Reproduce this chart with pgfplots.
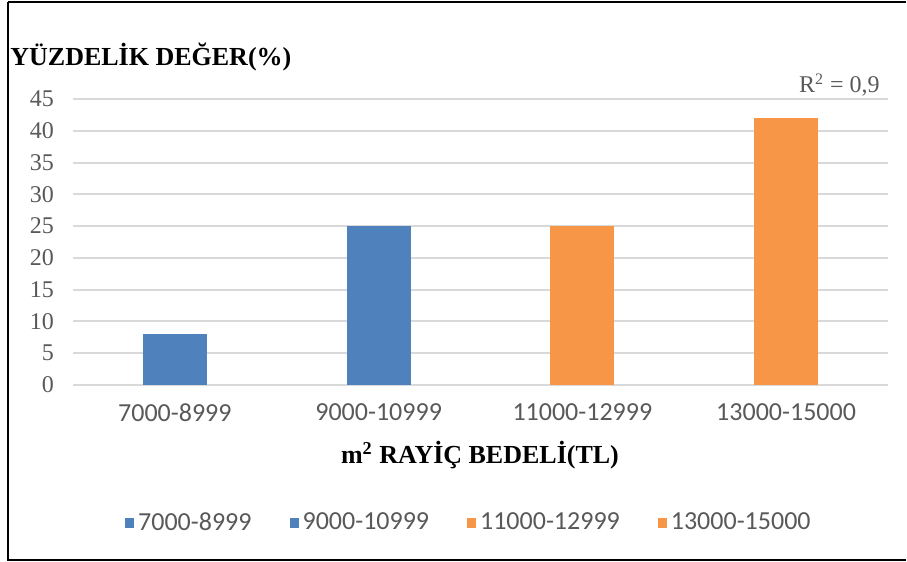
\documentclass[border=0pt]{standalone}
\usepackage{fontspec}
\setmainfont{Liberation Serif}
\newfontfamily\calfont{Carlito}
\usepackage{pgfplots}
\pgfplotsset{compat=1.18}
\definecolor{barblue}{HTML}{4F81BD}
\definecolor{barorange}{HTML}{F79646}
\definecolor{txtgray}{HTML}{595959}
\definecolor{gridgray}{HTML}{D9D9D9}
\begin{document}
\begin{tikzpicture}
\useasboundingbox (-36.5pt,-88.5pt) rectangle (417pt,192.5pt);
\begin{axis}[
  scale only axis,
  width=407.5pt, height=143pt,
  at={(0,0)}, anchor=south west,
  ybar, bar width=32pt, bar shift=0pt,
  xmin=-0.5, xmax=3.5,
  ymin=0, ymax=45,
  ytick={0,5,...,45},
  xtick={0,1,2,3},
  xticklabels={7000-8999,9000-10999,11000-12999,13000-15000},
  axis line style={draw=none},
  major tick length=0pt,
  ymajorgrids=true,
  grid style={gridgray, line width=1pt},
  /pgf/number format/assume math mode=true,
  yticklabel style={font=\fontsize{12}{14}\selectfont, text=txtgray, xshift=-6pt},
  xticklabel style={font=\calfont\fontsize{13}{15}\selectfont, text=txtgray, yshift=-6pt},
  legend columns=4,
  legend style={at={(0.487,-0.4825)}, anchor=center, draw=none,
    font=\calfont\fontsize{13}{15}\selectfont, text=txtgray,
    /tikz/every even column/.append style={column sep=17pt}},
  legend image code/.code={\fill[#1] (0pt,-2.3pt) rectangle (4.5pt,2.7pt);},
]
\addplot[fill=barblue, draw=none] coordinates {(0,8)};
\addplot[fill=barblue, draw=none] coordinates {(1,25)};
\addplot[fill=barorange, draw=none] coordinates {(2,25)};
\addplot[fill=barorange, draw=none] coordinates {(3,42)};
\legend{7000-8999, 9000-10999, 11000-12999, 13000-15000}
\end{axis}
\node[anchor=west, font=\bfseries\fontsize{13}{15}\selectfont, inner sep=0pt] at (-31.5pt,164pt) {YÜZDELİK DEĞER(\%)};
\node[anchor=east, font=\fontsize{12}{14}\selectfont, text=txtgray, inner sep=0pt] at (403.5pt,150pt) {R\textsuperscript{2} = 0,9};
\node[font=\bfseries\fontsize{13}{15}\selectfont, inner sep=0pt] at (203.5pt,-35pt) {m\textsuperscript{2} RAYİÇ BEDELİ(TL)};
\draw[line width=1.3pt, black] (-32.5pt,191.5pt) -- (-32.5pt,-87.5pt) -- (416.5pt,-87.5pt);
\draw[line width=0.8pt, black] (-32.5pt,191.5pt) -- (416.5pt,191.5pt);
\end{tikzpicture}
\end{document}
